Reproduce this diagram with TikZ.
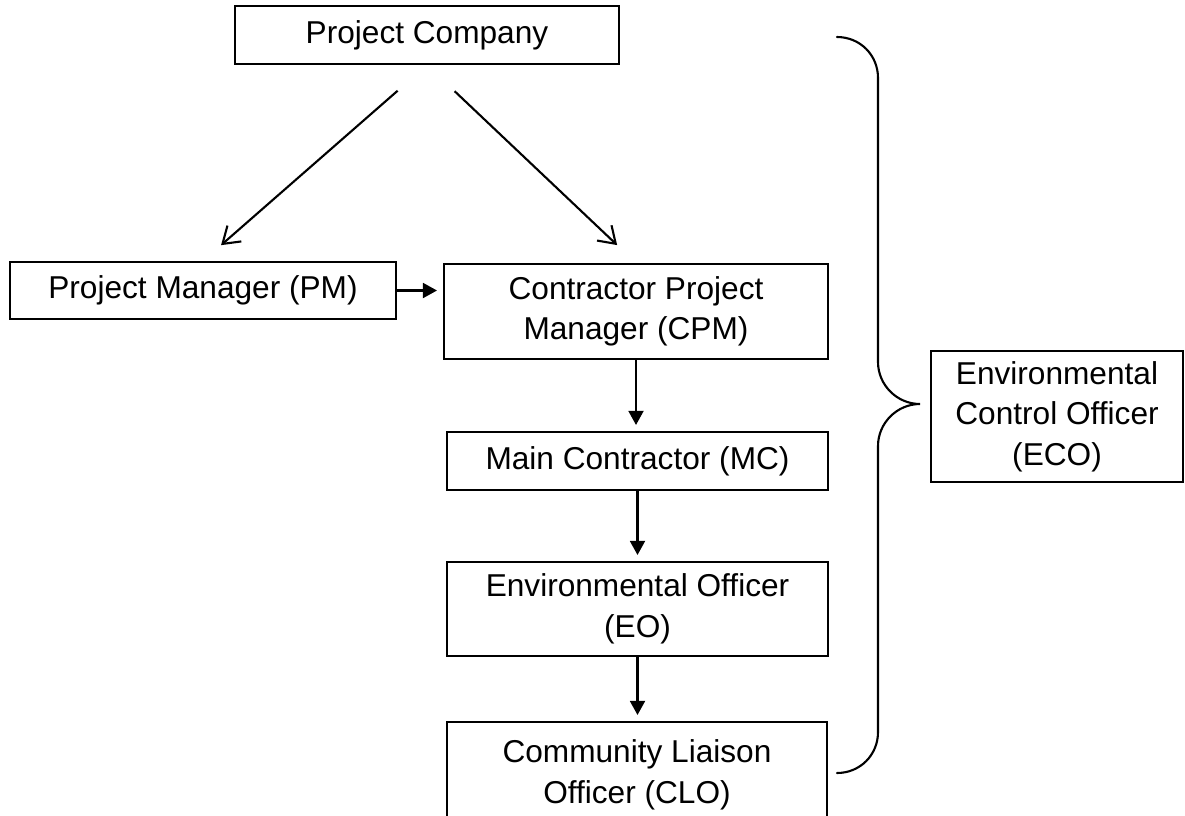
\documentclass[tikz,border=0pt]{standalone}
\usepackage{fontspec}
\setmainfont{Liberation Sans}
\usetikzlibrary{arrows.meta}
\tikzset{
    normal/.style={draw, line width=1.2pt},
    box/.style={style=normal, align=center, inner sep=0, font=\fontsize{18}{23}\selectfont}, % boxes of the chart
    e/.style={style=normal, -{Triangle[length=8pt, width=8.5pt]}, shorten >=0.12cm}, % filled arrow
    oe/.style={style=normal, -{Straight Barb[length=9pt, width=12pt]}}, % open arrow
    brace/.style={style=normal, line cap=round}
}

\begin{document}
\begin{tikzpicture}[x=0.02cm, y=-0.02cm]
          \clip (0, 0) rectangle (1185, 815);
          \node[box, minimum width=7.68cm, minimum height=1.16cm] (pc) at (427, 35) {Project Company};
          \node[box, minimum width=7.72cm, minimum height=1.14cm] (pm) at (203, 290.5) {Project Manager (PM)};
          \node[box, minimum width=7.68cm, minimum height=1.9cm] (cpm) at (636, 311.5) {Contractor Project\\Manager (CPM)};
          \node[box, minimum width=7.62cm, minimum height=1.16cm] (mc) at (637.5, 461) {Main Contractor (MC)};
          \node[box, minimum width=7.62cm, minimum height=1.88cm] (eo) at (637.5, 609) {Environmental Officer\\(EO)};
          \node[box, minimum width=7.6cm, minimum height=2.12cm] (clo) at (637, 775) {Community Liaison\\Officer (CLO)};
          \node[box, minimum width=5.04cm, minimum height=2.62cm] (eco) at (1057, 416.5) {Environmental\\Control Officer\\(ECO)};

          \draw[oe, shorten <=0.78cm, shorten >=0.48cm] (pc.south) to (pm.north);
          \draw[oe, shorten <=0.76cm, shorten >=0.52cm] (pc.south) to (cpm.north);
          \draw[e] (pm.east) to (pm.east -| cpm.west);
          \draw[e] (cpm.south) to (cpm.south |- mc.north);
          \draw[e] (mc.south) to (mc.south |- eo.north);
          \draw[e] (eo.south) to (eo.south |- clo.north);

          % brace in front of the ECO box
          \coordinate (b_top) at (837, 37);
          \coordinate (b_tip) at (920, 404);
          \coordinate (b_bottom) at (837, 773);
          \draw[brace] (b_top) .. controls (860, 37) and (878, 55) .. (878, 78)
              -- (878, 362) .. controls (878, 385) and (897, 404) .. (b_tip)
              .. controls (897, 404) and (878, 423) .. (878, 446)
              -- (878, 732) .. controls (878, 755) and (860, 773) .. (b_bottom);
        \end{tikzpicture}
\end{document}
